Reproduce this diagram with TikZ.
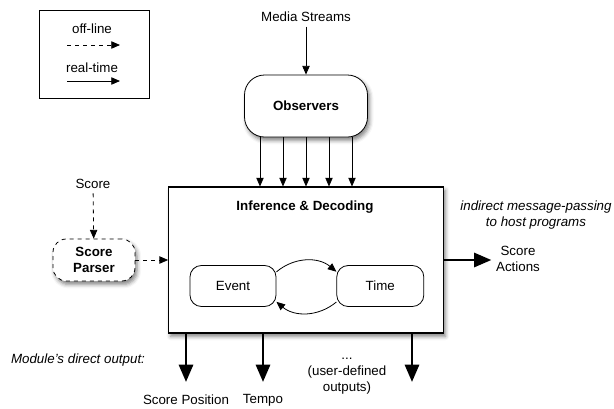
\documentclass[tikz,border=0pt]{standalone}
\usepackage{fontspec}
\setmainfont{Liberation Sans}
\usepackage{tikz}
\usetikzlibrary{positioning}
\usetikzlibrary{arrows.meta}
\usetikzlibrary{shadows,shadows.blur}
\tikzset{
	block/.style={
		rectangle,
		align=center,
		inner sep=0pt,
		rounded corners=.3cm,
		fill=white,
		line width=.6pt
	},
	panel/.style={
		rectangle,
		fill=white,
		line width=.8pt
	},
	soft/.style={
		blur shadow={shadow xshift=1.5pt, shadow yshift=-2.5pt, shadow blur radius=3pt, shadow opacity=50}
	},
	rt/.style={-{Triangle[length=6.5pt,width=5.5pt]}, line width=.6pt},
	ol/.style={rt, dashed},
	bigarrow/.style={-{Triangle[length=13pt,width=10.5pt]}, line width=2.2pt}
}

\begin{document}
\begin{tikzpicture}[x=0.75pt,y=0.75pt]
	\useasboundingbox (0,0) rectangle (614,-408);
	\node[draw, panel, line width=.6pt, minimum width=82.5pt, minimum height=66pt] (legend) at (94,-54) {};
	\node (offline) at (92,-29) {off-line};
	\node (realtime) at (92,-68) {real-time};
	\coordinate (olstart) at (67,-45);
	\coordinate (olend) at (120,-45);
	\coordinate (rtstart) at (67,-81);
	\coordinate (rtend) at (120,-81);
	\draw[ol] (olstart) -- (olend);
	\draw[rt] (rtstart) -- (rtend);
	
	\node (media) at (306,-17) {Media Streams};
	\node[draw, block, soft, font=\bfseries, minimum width=92.25pt, minimum height=46.5pt, rounded corners=15pt] (observers) at (306,-106) {Observers};
	\node[draw, panel, soft, minimum width=206pt, minimum height=109.5pt] (inference) at (306,-260) {};
	\node[font=\bfseries] (title) at (305,-207) {Inference \& Decoding};
	\node[draw, block, minimum width=64.5pt, minimum height=30.75pt] (event) at (233,-286) {Event};
	\node[draw, block, minimum width=65.25pt, minimum height=30.75pt, right=45pt of event] (time) {Time};
	
	\draw[rt] (media) -- (observers);
	\foreach \dx in {-34.5,-17.25,0,17.25,34.5}
		\draw[rt] ([xshift=\dx pt]observers.south) -- ([xshift=\dx pt]inference.north);
	\draw[rt] (event.18) to[bend left=40] (time.162);
	\draw[rt] (time.200) to[bend left=40] (event.340);
	
	\node (score) at (93,-184) {Score};
	\node[draw, block, dashed, soft, font=\bfseries, minimum width=61.5pt, minimum height=31.5pt, rounded corners=10pt] (parser) at (94,-260) {Score\\Parser};
	\draw[ol] (score) -- (parser);
	\draw[ol] (parser) -- (inference);
	
	\node[align=center] (actions) at (518,-259) {Score\\Actions};
	\node[align=center, font=\itshape] (indirect) at (536,-215) {indirect message-passing\\to host programs};
	\draw[bigarrow] (inference.east) -- (inference.east -| actions.west);
	
	\node[font=\itshape] (module) at (78,-360) {Module's direct output:};
	\node (scorepos) at (186,-400) {Score Position};
	\node (tempo) at (263,-400) {Tempo};
	\node[align=center] (userdef) at (347,-376) {...\\(user-defined\\outputs)};
	\coordinate (posout) at (186,-382);
	\coordinate (tempoout) at (263,-382);
	\coordinate (userout) at (412,-382);
	\foreach \o in {posout,tempoout,userout}
		\draw[bigarrow] (inference.south -| \o) -- (\o);
\end{tikzpicture}
\end{document}
